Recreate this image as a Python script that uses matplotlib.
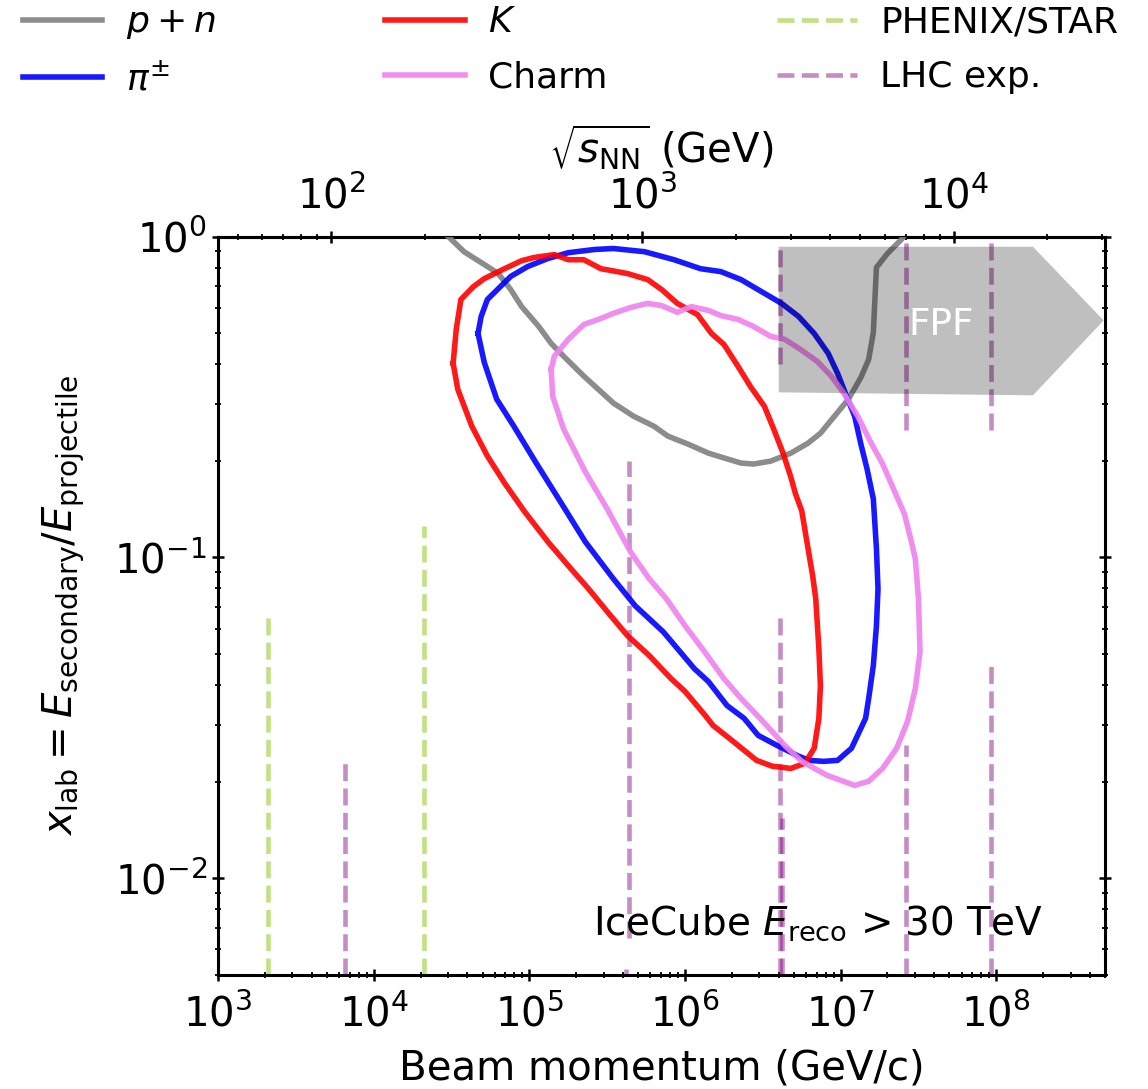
import numpy as np
import matplotlib.pyplot as plt
from matplotlib.patches import Polygon
from matplotlib.lines import Line2D

M_PROTON = 0.938  # GeV

# 90% contours, stored as log10(beam momentum / GeV) and log10(x_lab)
pn_logp = [4.43, 4.48, 4.58, 4.73, 4.80, 4.88, 4.95, 5.06, 5.14, 5.22, 5.35, 5.54,
           5.67, 5.80, 5.89, 6.02, 6.15, 6.23, 6.36, 6.44, 6.55, 6.68, 6.79, 6.87,
           6.96, 7.05, 7.13, 7.18, 7.21, 7.22, 7.23, 7.30, 7.39, 7.43]
pn_logx = [0.020, 0.000, -0.047, -0.093, -0.115, -0.165, -0.218, -0.280, -0.333,
           -0.373, -0.435, -0.519, -0.560, -0.591, -0.622, -0.647, -0.675, -0.687,
           -0.706, -0.709, -0.700, -0.675, -0.644, -0.613, -0.560, -0.507, -0.439,
           -0.383, -0.299, -0.196, -0.096, -0.053, -0.009, 0.016]

pi_logp = [4.67, 4.69, 4.73, 4.88, 4.99, 5.12, 5.25, 5.42, 5.54, 5.74, 5.93, 6.10,
           6.23, 6.36, 6.49, 6.62, 6.73, 6.83, 6.92, 6.98, 7.03, 7.09, 7.13, 7.17,
           7.21, 7.23, 7.24, 7.23, 7.21, 7.18, 7.16, 7.07, 6.98, 6.89, 6.80, 6.73,
           6.59, 6.47, 6.38, 6.27, 6.15, 6.06, 5.86, 5.68, 5.54, 5.36, 5.20, 5.04,
           4.90, 4.79, 4.71, 4.67]
pi_logx = [-0.302, -0.249, -0.196, -0.124, -0.093, -0.068, -0.050, -0.040, -0.037,
           -0.047, -0.072, -0.100, -0.109, -0.134, -0.171, -0.208, -0.249, -0.302,
           -0.364, -0.426, -0.488, -0.560, -0.647, -0.725, -0.818, -0.973, -1.098,
           -1.213, -1.337, -1.440, -1.502, -1.595, -1.633, -1.636, -1.633, -1.620,
           -1.586, -1.555, -1.502, -1.462, -1.387, -1.347, -1.232, -1.151, -1.067,
           -0.952, -0.827, -0.703, -0.591, -0.507, -0.392, -0.302]

k_logp = [4.51, 4.53, 4.56, 4.64, 4.71, 4.84, 4.95, 5.03, 5.16, 5.25, 5.35, 5.46,
          5.63, 5.76, 5.85, 5.95, 6.08, 6.17, 6.25, 6.34, 6.42, 6.51, 6.57, 6.63,
          6.68, 6.71, 6.75, 6.78, 6.82, 6.84, 6.86, 6.87, 6.86, 6.83, 6.77, 6.68,
          6.56, 6.46, 6.31, 6.18, 6.13, 6.00, 5.91, 5.77, 5.63, 5.50, 5.38, 5.25,
          5.12, 4.97, 4.84, 4.73, 4.63, 4.54, 4.51]
k_logx = [-0.395, -0.289, -0.196, -0.156, -0.131, -0.100, -0.075, -0.065, -0.056,
          -0.072, -0.072, -0.100, -0.115, -0.134, -0.165, -0.208, -0.243, -0.302,
          -0.336, -0.404, -0.467, -0.529, -0.600, -0.675, -0.750, -0.802, -0.855,
          -0.942, -1.057, -1.129, -1.284, -1.400, -1.502, -1.595, -1.642, -1.658,
          -1.651, -1.633, -1.574, -1.524, -1.493, -1.418, -1.378, -1.306, -1.244,
          -1.169, -1.098, -1.026, -0.952, -0.858, -0.768, -0.684, -0.591, -0.476,
          -0.395]

charm_logp = [5.14, 5.16, 5.25, 5.35, 5.46, 5.54, 5.65, 5.76, 5.85, 5.95, 6.04, 6.15,
              6.23, 6.34, 6.44, 6.55, 6.64, 6.74, 6.85, 6.94, 7.02, 7.11, 7.19, 7.27,
              7.34, 7.41, 7.45, 7.48, 7.50, 7.51, 7.48, 7.43, 7.36, 7.27, 7.18, 7.09,
              6.91, 6.75, 6.64, 6.50, 6.36, 6.25, 6.11, 6.00, 5.88, 5.77, 5.65, 5.50,
              5.36, 5.22, 5.15, 5.14]
charm_logx = [-0.414, -0.373, -0.320, -0.274, -0.255, -0.239, -0.221, -0.208, -0.215,
              -0.236, -0.218, -0.230, -0.246, -0.258, -0.280, -0.311, -0.320, -0.351,
              -0.389, -0.435, -0.488, -0.560, -0.638, -0.709, -0.787, -0.865, -0.942,
              -1.005, -1.129, -1.294, -1.409, -1.511, -1.595, -1.658, -1.698, -1.711,
              -1.679, -1.636, -1.586, -1.511, -1.440, -1.378, -1.284, -1.213, -1.129,
              -1.067, -0.983, -0.849, -0.734, -0.600, -0.498, -0.414]

# accelerator coverage: beam momentum (GeV/c), lower and upper x_lab
rhic_p = [2.1e3, 2.1e4]
rhic_lo = [5e-3, 5e-3]
rhic_hi = [0.065, 0.125]

lhc_p = [6.5e3, 4.37e5, 4.2e5, 4.07e6, 4.07e6, 4.2e6, 2.62e7, 2.62e7, 9.2e7, 9.2e7]
lhc_lo = [5e-3, 6.5e-3, 4e-3, 0.40, 5e-3, 5e-3, 0.25, 5e-3, 0.25, 5e-3]
lhc_hi = [0.023, 0.20, 5.2e-3, 0.944, 0.065, 0.0154, 1.0, 0.026, 1.0, 0.046]

# Forward Physics Facility reach (arrow outline)
fpf_p = [4.0e6, 1.72e8, 4.9e8, 1.72e8, 4.0e6]
fpf_x = [0.93, 0.93, 0.548, 0.32, 0.327]

sqrts_ticks = [1e2, 1e3, 1e4]

plt.rcParams['mathtext.fontset'] = 'dejavusans'

fig = plt.figure(figsize=(11.48, 10.89), dpi=100)
ax = fig.add_axes([0.190, 0.105, 0.7726, 0.6777])
ax.set_xscale('log')
ax.set_yscale('log')
ax.set_xlim(1e3, 5e8)
ax.set_ylim(5e-3, 1)

lw = 4.0
dash_lw = 3.3
ax.plot(10**np.array(pn_logp), 10**np.array(pn_logx), color='grey', alpha=0.9, lw=lw, zorder=3)
ax.plot(10**np.array(pi_logp), 10**np.array(pi_logx), color='blue', alpha=0.9, lw=lw, zorder=3)
ax.plot(10**np.array(k_logp), 10**np.array(k_logx), color='red', alpha=0.9, lw=lw, zorder=3)
ax.plot(10**np.array(charm_logp), 10**np.array(charm_logx), color='violet', alpha=0.9, lw=lw, zorder=3)

for p, lo, hi in zip(rhic_p, rhic_lo, rhic_hi):
    ax.plot([p, p], [lo, hi], color='yellowgreen', alpha=0.6, lw=dash_lw, ls='--', zorder=2)
for p, lo, hi in zip(lhc_p, lhc_lo, lhc_hi):
    ax.plot([p, p], [lo, hi], color='purple', alpha=0.45, lw=dash_lw, ls='--', zorder=2)

ax.add_patch(Polygon(list(zip(fpf_p, fpf_x)), closed=True, facecolor='k',
                     alpha=0.25, edgecolor='none', zorder=4))
ax.text(4.4e7, 0.53, 'FPF', color='white', fontsize=27, ha='center', va='center', zorder=5)

ax.text(0.93, 0.07, r'IceCube $E_{\rm reco}$ > 30 TeV', transform=ax.transAxes,
        ha='right', va='center', fontsize=28)

ax.set_xlabel('Beam momentum (GeV/c)', fontsize=29, labelpad=9)
ax.set_ylabel(r'$x_{\rm lab} = E_{\rm secondary}/E_{\rm projectile}$', fontsize=29, labelpad=20)


def p_to_sqrts(p):
    return np.sqrt(2 * M_PROTON * np.clip(p, 1e-12, None))


def sqrts_to_p(s):
    return np.asarray(s)**2 / (2 * M_PROTON)


secax = ax.secondary_xaxis('top', functions=(p_to_sqrts, sqrts_to_p))
secax.set_xticks(sqrts_ticks)
secax.set_xlabel(r'$\sqrt{s_{\rm NN}}$ (GeV)', fontsize=29, labelpad=10)

for a in (ax, secax):
    a.tick_params(which='major', direction='inout', length=9, width=1.8, labelsize=29)
    a.tick_params(which='minor', direction='inout', length=5, width=1.3)
ax.tick_params(axis='x', which='major', pad=10)
secax.tick_params(axis='x', which='major', pad=9)
ax.tick_params(which='both', right=True)
for s in ax.spines.values():
    s.set_linewidth(2.2)
secax.spines['top'].set_linewidth(2.2)

handles = [
    Line2D([], [], color='grey', alpha=0.9, lw=lw, label='$p + n$'),
    Line2D([], [], color='blue', alpha=0.9, lw=lw, label=r'$\pi^{\pm}$'),
    Line2D([], [], color='red', alpha=0.9, lw=lw, label='$K$'),
    Line2D([], [], color='violet', alpha=0.9, lw=lw, label='Charm'),
    Line2D([], [], color='yellowgreen', alpha=0.6, lw=dash_lw, ls='--', label='PHENIX/STAR'),
    Line2D([], [], color='purple', alpha=0.45, lw=dash_lw, ls='--', label='LHC exp.'),
]
fig.legend(handles=handles, ncol=3, loc='upper left', bbox_to_anchor=(0.015, 1.0),
           frameon=False, fontsize=26, columnspacing=4.7, handlelength=2.2,
           handletextpad=0.65, labelspacing=0.58, borderaxespad=0.0, borderpad=0.15)

fig.savefig('out.png', dpi=100)
